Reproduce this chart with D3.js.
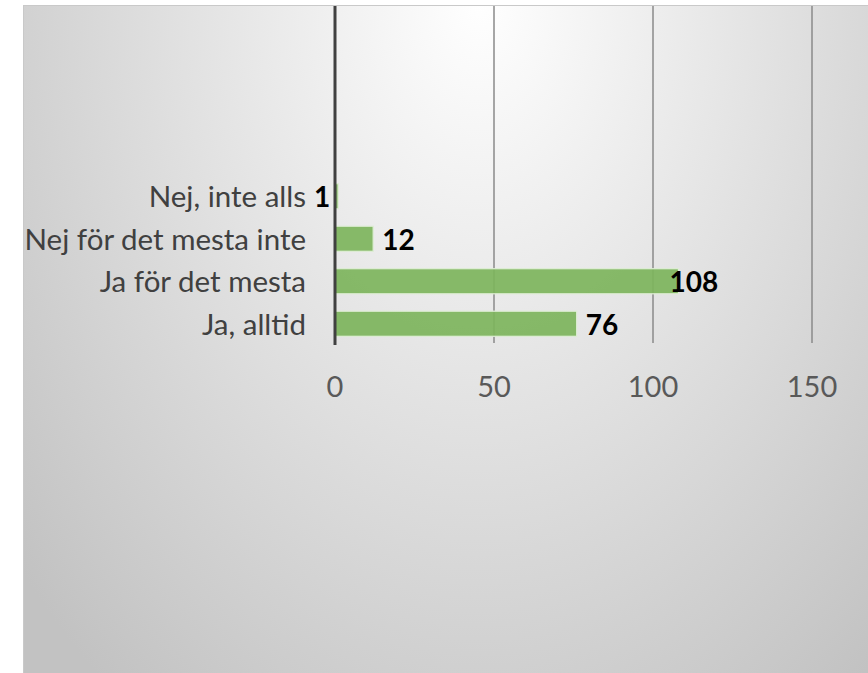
<!DOCTYPE html>
<html>
<head>
<meta charset="utf-8">
<script src="https://cdn.jsdelivr.net/npm/d3@7"></script>
<style>
  body { margin: 0; background: #fff; }
  svg { display: block; }
</style>
</head>
<body>
<svg width="868" height="673"></svg>
<script>
// survey answers, drawn bottom-up like the original
var categories = ["Ja, alltid", "Ja för det mesta", "Nej för det mesta inte", "Nej, inte alls"];
var counts = [76, 108, 12, 1];
var tickValues = [0, 50, 100, 150];
var emptySlots = 4; // the chart reserves room for 4 empty rows above

var svg = d3.select("svg");
var font = "Lato, 'Open Sans', sans-serif";

// background panel, elliptical radial gradient lit from the top
var defs = svg.append("defs");
var grad = defs.append("radialGradient")
    .attr("id", "bg")
    .attr("gradientUnits", "userSpaceOnUse")
    .attr("cx", 480).attr("cy", 0).attr("r", 610)
    .attr("gradientTransform", "translate(480,0) scale(1,1.42) translate(-480,0)");
grad.append("stop").attr("offset", "0").attr("stop-color", "#ffffff");
grad.append("stop").attr("offset", "1").attr("stop-color", "#c2c2c2");

svg.append("rect")
    .attr("x", 23.5).attr("y", 5.5)
    .attr("width", 860).attr("height", 680)
    .attr("fill", "url(#bg)")
    .attr("stroke", "#c9c9c9")
    .attr("stroke-width", 1);

var x = d3.scaleLinear().domain([0, 200]).range([335, 971]);

var slots = d3.range(categories.length + emptySlots);
var y = d3.scaleBand()
    .domain(slots)
    .range([345, 5])
    .paddingInner(0.41)
    .paddingOuter(0.205);

// gridlines
svg.append("g")
  .selectAll("line")
  .data(tickValues.slice(1))
  .enter().append("line")
    .attr("x1", function(d) { return x(d); })
    .attr("x2", function(d) { return x(d); })
    .attr("y1", 6).attr("y2", 343)
    .attr("stroke", "#8a8a8a")
    .attr("stroke-width", 1.5);

// bars
svg.append("g")
  .selectAll("rect")
  .data(counts)
  .enter().append("rect")
    .attr("x", x(0))
    .attr("y", function(d, i) { return y(i); })
    .attr("width", function(d) { return x(d) - x(0); })
    .attr("height", y.bandwidth())
    .attr("fill", "#7db45c")
    .attr("fill-opacity", 0.92)
    .attr("stroke", "#dfeed6")
    .attr("stroke-width", 1.2);

// zero axis line
svg.append("line")
    .attr("x1", x(0)).attr("x2", x(0))
    .attr("y1", 6).attr("y2", 345)
    .attr("stroke", "#404040")
    .attr("stroke-width", 3);

// x tick labels
svg.append("g")
  .selectAll("text")
  .data(tickValues)
  .enter().append("text")
    .attr("x", function(d) { return x(d); })
    .attr("y", 397)
    .attr("text-anchor", "middle")
    .attr("font-family", font)
    .attr("font-size", 29)
    .attr("fill", "#595959")
    .text(function(d) { return d; });

// category labels
svg.append("g")
  .selectAll("text")
  .data(categories)
  .enter().append("text")
    .attr("x", 306)
    .attr("y", function(d, i) { return y(i) + y.bandwidth() / 2 + 11; })
    .attr("text-anchor", "end")
    .attr("font-family", font)
    .attr("font-size", 29.5)
    .attr("fill", "#404040")
    .text(function(d) { return d; });

// value labels (some were moved by hand in the original)
var labelShift = [9, -9, 9, -8];
svg.append("g")
  .selectAll("text")
  .data(counts)
  .enter().append("text")
    .attr("x", function(d, i) { return x(d) + labelShift[i]; })
    .attr("y", function(d, i) { return y(i) + y.bandwidth() / 2 + 11; })
    .attr("text-anchor", function(d, i) { return i == 3 ? "end" : "start"; })
    .attr("font-family", font)
    .attr("font-size", 28)
    .attr("font-weight", "bold")
    .attr("fill", "#000")
    .text(function(d) { return d; });
</script>
</body>
</html>
